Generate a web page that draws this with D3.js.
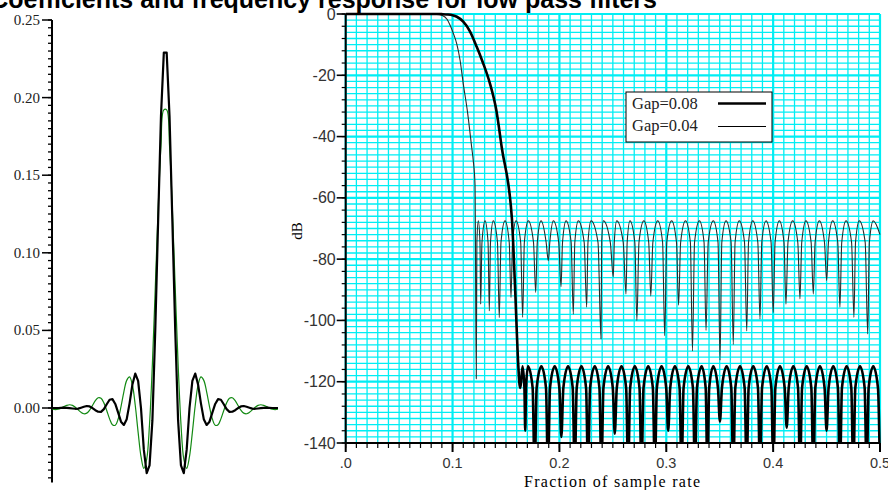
<!DOCTYPE html>
<html>
<head>
<meta charset="utf-8">
<script src="https://cdn.jsdelivr.net/npm/d3@7"></script>
<style>
  body { margin: 0; background: #fff; overflow: hidden; }
  .serif { font-family: "Liberation Serif", "Times New Roman", serif; }
  .sans { font-family: "Liberation Sans", Arial, sans-serif; }
</style>
</head>
<body>
<svg id="chart" width="888" height="490"></svg>
<script>
// ---- left panel: filter coefficients (tap index 0..79) ----
var coefBlack = [
  0, 0, 0, 0.0001, 0.0002, 0.0001, -0.0001, -0.0003, -0.0005, -0.0004,
  0.0002, 0.0008, 0.0013, 0.0010, 0, -0.0014, -0.0024, -0.0025, -0.0007, 0.0024,
  0.0053, 0.0057, 0.0026, -0.0030, -0.0088, -0.0109, -0.0072, 0.0030, 0.0152, 0.0222,
  0.0175, 0, -0.0270, -0.0420, -0.0370, -0.0080, 0.0500, 0.1200, 0.1880, 0.2290,
  0.2290, 0.1880, 0.1200, 0.0500, -0.0080, -0.0370, -0.0420, -0.0270, 0, 0.0175,
  0.0222, 0.0152, 0.0030, -0.0072, -0.0109, -0.0088, -0.0030, 0.0026, 0.0057, 0.0053,
  0.0024, -0.0007, -0.0025, -0.0024, -0.0014, 0, 0.0010, 0.0013, 0.0008, 0.0002,
  -0.0004, -0.0005, -0.0003, -0.0001, 0.0001, 0.0002, 0.0001, 0, 0, 0
];
var coefGreen = [
  -0.0008, -0.0010, -0.0008, -0.0001, 0.0009, 0.0017, 0.0021, 0.0017, 0.0005, -0.0012,
  -0.0028, -0.0037, -0.0033, -0.0014, 0.0016, 0.0047, 0.0066, 0.0063, 0.0033, -0.0016,
  -0.0070, -0.0108, -0.0111, -0.0071, 0.0009, 0.0104, 0.0178, 0.0200, 0.0147, 0.0016,
  -0.0157, -0.0312, -0.0389, -0.0330, -0.0101, 0.0286, 0.0773, 0.1276, 0.1690, 0.1921,
  0.1921, 0.1690, 0.1276, 0.0773, 0.0286, -0.0101, -0.0330, -0.0389, -0.0312, -0.0157,
  0.0016, 0.0147, 0.0200, 0.0178, 0.0104, 0.0009, -0.0071, -0.0111, -0.0108, -0.0070,
  -0.0016, 0.0033, 0.0063, 0.0066, 0.0047, 0.0016, -0.0014, -0.0033, -0.0037, -0.0028,
  -0.0012, 0.0005, 0.0017, 0.0021, 0.0017, 0.0009, -0.0001, -0.0008, -0.0010, -0.0008
];
var coefTicks = [0.00, 0.05, 0.10, 0.15, 0.20, 0.25];

// ---- right panel: frequency response (fraction of sample rate, dB) ----
// Gap=0.08 (thick)
var thickPassF  = [0, 0.085, 0.090, 0.095, 0.100, 0.104, 0.110, 0.116, 0.1226, 0.128, 0.135, 0.141, 0.146, 0.1555, 0.1584, 0.1615];
var thickPassDb = [0, 0, -0.05, -0.15, -0.4, -0.9, -2.5, -5.5, -10.7, -15.5, -22.7, -31.5, -43.5, -66.6, -88.4, -114.6];
var thickNullF  = [0.1627, 0.1680, 0.1768, 0.1893, 0.2018, 0.2143, 0.2268, 0.2393, 0.2518, 0.2643, 0.2768, 0.2893, 0.3018, 0.3143, 0.3268,
                   0.3385, 0.3502, 0.3627, 0.3752, 0.3877, 0.4002, 0.4127, 0.4252, 0.4376, 0.4500, 0.4625, 0.4750, 0.4875, 0.5000];
var thickNullDb = [-121, -136, -150, -150, -138, -150, -150, -150, -137, -150, -150, -150, -136, -150, -150,
                   -150, -133, -150, -150, -150, -150, -135, -150, -150, -136, -150, -150, -150, -150];
var thickPeakF  = [0.1655, 0.1706, 0.1831, 0.1956, 0.2081, 0.2206, 0.2331, 0.2456, 0.2581, 0.2706, 0.2831, 0.2956, 0.3081, 0.3206,
                   0.3331, 0.3440, 0.3565, 0.3690, 0.3814, 0.3940, 0.4064, 0.4189, 0.4314, 0.4438, 0.4563, 0.4688, 0.4813, 0.4937];
var thickPeakDb = -115;

// Gap=0.04 (thin)
var thinPassF  = [0, 0.080, 0.085, 0.090, 0.095, 0.0976, 0.1007, 0.1038, 0.107, 0.110, 0.114, 0.1179, 0.1194, 0.121];
var thinPassDb = [0, 0, -0.05, -0.4, -1.8, -3.6, -6.3, -9.6, -15, -22.7, -32, -43.5, -48, -55.5];
var thinNullF  = [0.1222, 0.1263, 0.1344, 0.1437, 0.1547, 0.1656, 0.1778, 0.1896, 0.2015, 0.2130, 0.2255, 0.2389, 0.2504, 0.2623, 0.2725, 0.2855,
                  0.2985, 0.3115, 0.3245, 0.3372, 0.3503, 0.3627, 0.3753, 0.3877, 0.4001, 0.4120, 0.4251, 0.4376, 0.4501, 0.4625, 0.4756, 0.4885];
var thinNullDb = [-119, -94.7, -96.9, -99.1, -92.5, -99, -90.9, -80.5, -89, -98, -95.7, -106, -85.8, -91.4, -100, -92,
                  -105, -95, -110, -103.3, -113, -107.9, -103.4, -99.6, -97.4, -94.7, -93, -91.4, -87, -95.7, -99, -104.4];
var thinPeakF  = [0.1241, 0.1304, 0.1381, 0.1491, 0.1594, 0.1709, 0.1828, 0.1943, 0.2062, 0.2177, 0.2296, 0.2411, 0.2536, 0.2660, 0.2790, 0.2920,
                  0.3050, 0.3180, 0.3310, 0.3440, 0.3559, 0.3683, 0.3809, 0.3933, 0.4058, 0.4183, 0.4307, 0.4432, 0.4557, 0.4682, 0.4806, 0.4937];
var thinPeakDb = -67.5;
var thinEnd = [0.5, -72];

var freqTicks = [0, 0.1, 0.2, 0.3, 0.4, 0.5];
var freqTickLabels = [".0", "0.1", "0.2", "0.3", "0.4", "0.5"];
var dbTicks = [0, -20, -40, -60, -80, -100, -120, -140];

var legendLabels = ["Gap=0.08", "Gap=0.04"];

var svg = d3.select("#chart");

svg.append("text")
  .attr("class", "sans")
  .attr("x", 657).attr("y", 8)
  .attr("text-anchor", "end")
  .style("font-size", "25px").style("font-weight", "bold")
  .text("Coefficients and frequency response for low pass filters");

// ================= left panel =================
var lx = d3.scaleLinear().domain([0, 79]).range([52.5, 278]);
var ly = d3.scaleLinear().domain([-0.048, 0.25]).range([482.5, 20]);

var leftAxis = svg.append("g").attr("transform", "translate(52,0)");
leftAxis.append("line").attr("y1", ly(0.25)).attr("y2", ly(-0.048))
  .attr("stroke", "#000").attr("stroke-width", 2);
var minorL = d3.range(-45, 251, 5).map(function(d) { return d / 1000; });
leftAxis.selectAll("line.mn").data(minorL).enter().append("line")
  .attr("x1", -4).attr("x2", 0)
  .attr("y1", function(d) { return ly(d); }).attr("y2", function(d) { return ly(d); })
  .attr("stroke", "#000").attr("stroke-width", 1.3);
leftAxis.selectAll("line.mj").data(coefTicks).enter().append("line")
  .attr("x1", -10).attr("x2", 0)
  .attr("y1", function(d) { return ly(d); }).attr("y2", function(d) { return ly(d); })
  .attr("stroke", "#000").attr("stroke-width", 1.5);
leftAxis.selectAll("text").data(coefTicks).enter().append("text")
  .attr("class", "serif")
  .attr("x", -12).attr("y", function(d) { return ly(d) + 5; })
  .attr("text-anchor", "end").style("font-size", "15px").attr("fill", "#222")
  .text(function(d) { return d3.format(".2f")(d); });

var coefLine = d3.line()
  .x(function(d, i) { return lx(i); })
  .y(function(d) { return ly(d); });

svg.append("path").datum(coefGreen)
  .attr("d", coefLine.curve(d3.curveCatmullRom)).attr("fill", "none")
  .attr("stroke", "#138a13").attr("stroke-width", 1.2);
svg.append("path").datum(coefBlack)
  .attr("d", coefLine.curve(d3.curveLinear)).attr("fill", "none")
  .attr("stroke", "#000").attr("stroke-width", 2.2).attr("stroke-linejoin", "round");

// ================= right panel =================
var rx = d3.scaleLinear().domain([0, 0.5]).range([345.7, 880]);
var ry = d3.scaleLinear().domain([-140, 0]).range([443, 14]);

var grid = svg.append("g");
grid.append("rect").attr("x", rx(0)).attr("y", ry(0))
  .attr("width", rx(0.5) - rx(0)).attr("height", ry(-140) - ry(0)).attr("fill", "#fff");
var vGrid = d3.range(0, 51).map(function(d) { return d / 100; });
var hGrid = d3.range(-140, 1, 2);
grid.selectAll("line.v").data(vGrid).enter().append("line")
  .attr("x1", function(d) { return rx(d); }).attr("x2", function(d) { return rx(d); })
  .attr("y1", ry(0)).attr("y2", ry(-140))
  .attr("stroke", "#00eef4").attr("stroke-width", function(d, i) { return i % 10 === 0 ? 2.2 : 1.3; });
grid.selectAll("line.h").data(hGrid).enter().append("line")
  .attr("x1", rx(0)).attr("x2", rx(0.5))
  .attr("y1", function(d) { return ry(d); }).attr("y2", function(d) { return ry(d); })
  .attr("stroke", "#00eef4").attr("stroke-width", function(d) { return d % 20 === 0 ? 2.2 : 1.3; });

svg.append("clipPath").attr("id", "plotClip").append("rect")
  .attr("x", rx(0)).attr("y", ry(0) - 4).attr("width", rx(0.5) - rx(0) + 2).attr("height", ry(-140) - ry(0) + 4);

function responsePoints(passF, passDb, nullF, nullDb, peakF, peakDb, endPt) {
  var pts = passF.map(function(f, i) { return [rx(f), ry(passDb[i])]; });
  var drop = 7;
  for (var i = 0; i < peakF.length; i++) {
    var fa = nullF[i], fp = peakF[i];
    var hasNext = i + 1 < nullF.length;
    var fb = hasNext ? nullF[i + 1] : endPt[0];
    pts.push([rx(fa), ry(nullDb[i])]);
    pts.push([rx(fa + (fp - fa) * 0.3), ry(peakDb - drop)]);
    pts.push([rx(fp), ry(peakDb)]);
    if (hasNext) {
      pts.push([rx(fb - (fb - fp) * 0.3), ry(peakDb - drop)]);
    }
  }
  if (nullF.length > peakF.length) {
    pts.push([rx(nullF[nullF.length - 1]), ry(nullDb[nullDb.length - 1])]);
  } else {
    pts.push([rx(endPt[0]), ry(endPt[1])]);
  }
  return pts;
}

var respLine = d3.line().curve(d3.curveMonotoneX);
var plot = svg.append("g").attr("clip-path", "url(#plotClip)");

plot.append("path")
  .datum(responsePoints(thinPassF, thinPassDb, thinNullF, thinNullDb, thinPeakF, thinPeakDb, thinEnd))
  .attr("d", respLine).attr("fill", "none").attr("stroke", "#2a2a2a").attr("stroke-width", 1.1);
plot.append("path")
  .datum(responsePoints(thickPassF, thickPassDb, thickNullF, thickNullDb, thickPeakF, thickPeakDb, [0.5, -150]))
  .attr("d", respLine).attr("fill", "none").attr("stroke", "#000").attr("stroke-width", 2.6);

// axes
var yAx = svg.append("g").attr("transform", "translate(" + rx(0) + ",0)");
yAx.append("line").attr("y1", ry(0)).attr("y2", ry(-140)).attr("stroke", "#000").attr("stroke-width", 2);
yAx.selectAll("line.mn").data(d3.range(-140, 1, 4)).enter().append("line")
  .attr("x1", -4).attr("x2", 0)
  .attr("y1", function(d) { return ry(d); }).attr("y2", function(d) { return ry(d); })
  .attr("stroke", "#000").attr("stroke-width", 1.2);
yAx.selectAll("line.mj").data(dbTicks).enter().append("line")
  .attr("x1", -9).attr("x2", 0)
  .attr("y1", function(d) { return ry(d); }).attr("y2", function(d) { return ry(d); })
  .attr("stroke", "#000").attr("stroke-width", 1.6);
yAx.selectAll("text").data(dbTicks).enter().append("text")
  .attr("class", "sans")
  .attr("x", -10).attr("y", function(d) { return ry(d) + 5.5; })
  .attr("text-anchor", "end").style("font-size", "16px").attr("fill", "#333")
  .text(function(d) { return d; });

var xAx = svg.append("g").attr("transform", "translate(0," + ry(-140) + ")");
xAx.append("line").attr("x1", rx(0)).attr("x2", rx(0.5)).attr("stroke", "#000").attr("stroke-width", 2);
xAx.selectAll("line.mn").data(vGrid).enter().append("line")
  .attr("x1", function(d) { return rx(d); }).attr("x2", function(d) { return rx(d); })
  .attr("y1", 0).attr("y2", 5).attr("stroke", "#000").attr("stroke-width", 1.2);
xAx.selectAll("line.mj").data(freqTicks).enter().append("line")
  .attr("x1", function(d) { return rx(d); }).attr("x2", function(d) { return rx(d); })
  .attr("y1", 0).attr("y2", 9).attr("stroke", "#000").attr("stroke-width", 2);
xAx.selectAll("text").data(freqTicks).enter().append("text")
  .attr("class", "sans")
  .attr("x", function(d) { return rx(d); }).attr("y", 25)
  .attr("text-anchor", "middle").style("font-size", "14.5px").attr("fill", "#333")
  .text(function(d, i) { return freqTickLabels[i]; });

svg.append("text").attr("class", "serif")
  .attr("x", 612).attr("y", 487).attr("text-anchor", "middle")
  .style("font-size", "16px").attr("textLength", 176).attr("lengthAdjust", "spacing")
  .text("Fraction of sample rate");
svg.append("text").attr("class", "serif")
  .attr("transform", "translate(302,231) rotate(-90)").attr("text-anchor", "middle")
  .style("font-size", "15px").text("dB");

// legend
var lg = svg.append("g");
lg.append("rect").attr("x", 626).attr("y", 92).attr("width", 146).attr("height", 50)
  .attr("fill", "#fff").attr("stroke", "#000").attr("stroke-width", 1);
lg.selectAll("text").data(legendLabels).enter().append("text").attr("class", "serif")
  .attr("x", 632).attr("y", function(d, i) { return 109 + i * 22; })
  .style("font-size", "16.5px").attr("fill", "#222").text(function(d) { return d; });
lg.selectAll("line").data(legendLabels).enter().append("line")
  .attr("x1", 718).attr("x2", 766)
  .attr("y1", function(d, i) { return 103.5 + i * 23; }).attr("y2", function(d, i) { return 103.5 + i * 23; })
  .attr("stroke", "#000").attr("stroke-width", function(d, i) { return i === 0 ? 2.6 : 1.1; });
</script>
</body>
</html>
